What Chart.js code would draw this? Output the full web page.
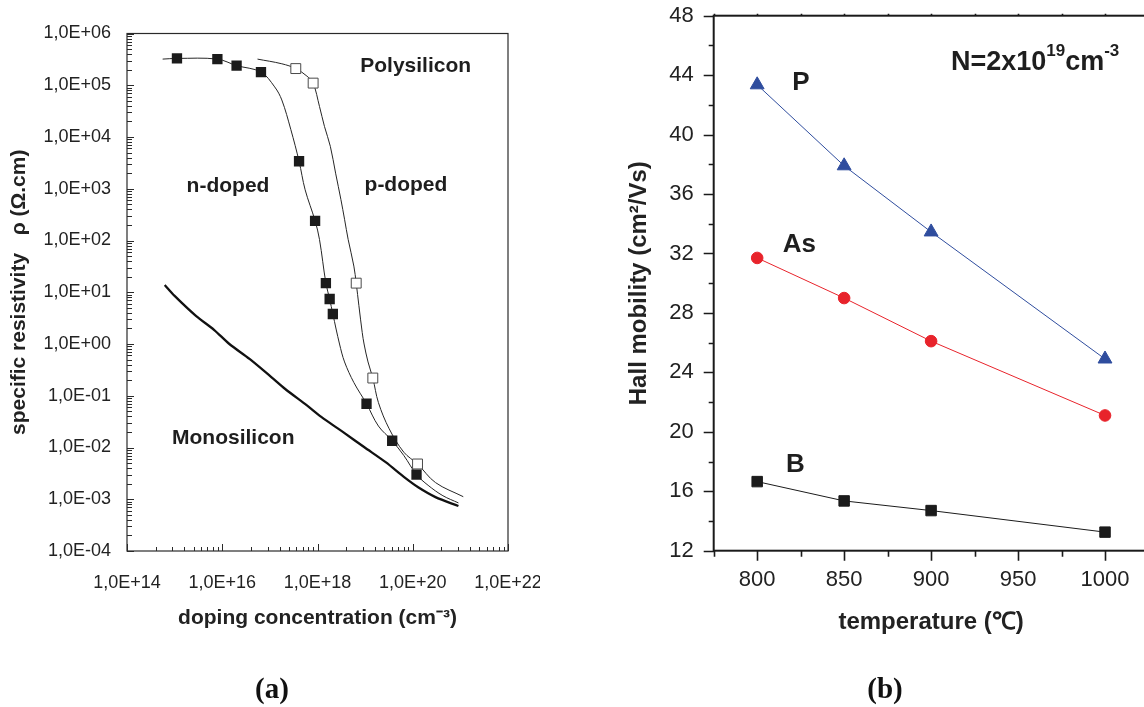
<!DOCTYPE html>
<html>
<head>
<meta charset="utf-8">
<script src="https://cdn.jsdelivr.net/npm/chart.js@4.4.0/dist/chart.umd.min.js"></script>
<style>
  html, body { margin: 0; padding: 0; background: #fff; overflow: hidden; width: 1144px; height: 707px; }
  #chartA { position: absolute; left: 0; top: 0; }
  #chartB { position: absolute; left: 560px; top: 0; }
  .panel { position: absolute; top: 670px; width: 80px; text-align: center; font: bold 29px 'Liberation Serif', serif; color: #111; line-height: 36px; }
</style>
</head>
<body>
<canvas id="chartA" width="540" height="707"></canvas>
<canvas id="chartB" width="600" height="707"></canvas>
<div class="panel" style="left:232px">(a)</div>
<div class="panel" style="left:845px">(b)</div>
<script>
// ---- panel (a): resistivity vs doping ----
const xTicksA = [1e14, 1e16, 1e18, 1e20, 1e22]
const xLabelsA = ['1,0E+14', '1,0E+16', '1,0E+18', '1,0E+20', '1,0E+22']
const yTicksA = [1e-4, 1e-3, 1e-2, 1e-1, 1e0, 1e1, 1e2, 1e3, 1e4, 1e5, 1e6]
const yLabelsA = ['1,0E-04', '1,0E-03', '1,0E-02', '1,0E-01', '1,0E+00', '1,0E+01', '1,0E+02', '1,0E+03', '1,0E+04', '1,0E+05', '1,0E+06']

// measured points
const nDopedX = [1.12e15, 7.9e15, 2.0e16, 6.5e16, 4.1e17, 8.9e17, 1.5e18, 1.8e18, 2.1e18, 1.07e19, 3.7e19, 1.2e20]
const nDopedY = [3.3e5, 3.2e5, 2.4e5, 1.8e5, 3.4e3, 240, 15, 7.4, 3.8, 0.07, 0.0135, 0.003]
const pDopedX = [3.5e17, 8.1e17, 6.5e18, 1.45e19, 1.26e20]
const pDopedY = [2.1e5, 1.1e5, 15, 0.22, 0.0048]

// fitted curves
const nCurveX = [5.6e14, 1.12e15, 7.9e15, 2.0e16, 6.5e16, 1.26e17, 1.78e17, 2.75e17, 4.1e17, 5.5e17, 8.9e17, 1.1e18, 1.5e18, 1.8e18, 2.1e18, 2.9e18, 3.7e18, 5.8e18, 1.07e19, 1.9e19, 3.7e19, 6.5e19, 1.2e20, 2.1e20, 4.3e20, 9.1e20]
const nCurveY = [3.2e5, 3.3e5, 3.2e5, 2.4e5, 1.8e5, 9.3e4, 5.2e4, 1.4e4, 3.4e3, 955, 240, 105, 15, 7.4, 3.8, 1.0, 0.45, 0.18, 0.07, 0.026, 0.0135, 0.007, 0.003, 0.00186, 0.00117, 0.00085]
const pCurveX = [5.5e16, 1.78e17, 3.5e17, 6.0e17, 8.1e17, 1.1e18, 1.4e18, 1.86e18, 2.4e18, 3.1e18, 3.7e18, 4.4e18, 5.8e18, 6.5e18, 7.4e18, 8.7e18, 9.5e18, 1.15e19, 1.45e19, 1.9e19, 3.2e19, 6.5e19, 1.26e20, 3.0e20, 1.15e21]
const pCurveY = [3.2e5, 2.6e5, 2.1e5, 1.5e5, 1.1e5, 3.9e4, 1.6e4, 6.6e3, 2.0e3, 620, 257, 105, 32, 15, 5.5, 1.66, 1.0, 0.45, 0.22, 0.074, 0.023, 0.0081, 0.0048, 0.0021, 0.00112]
const monoX = [6.2e14, 1.0e15, 2.8e15, 6.8e15, 1.41e16, 3.8e16, 1.07e17, 2.1e17, 6.0e17, 1.2e18, 3.4e18, 9.5e18, 2.7e19, 6.5e19, 1.3e20, 3.0e20, 9.1e20]
const monoY = [13.8, 8.5, 3.5, 1.86, 1.0, 0.51, 0.23, 0.135, 0.065, 0.039, 0.02, 0.0102, 0.0052, 0.0027, 0.0017, 0.0011, 0.00074]

const notesTextA = ['Polysilicon', 'n-doped', 'p-doped', 'Monosilicon']
const notesXA = [1.15e20, 1.32e16, 7.2e19, 1.7e16]
const notesYA = [2.35e5, 1.1e3, 1.17e3, 0.0151]

// ---- panel (b): Hall mobility vs temperature ----
const temps = [800, 850, 900, 1000]
const mobilityP = [43.35, 37.9, 33.45, 24.9]
const mobilityAs = [31.7, 29.0, 26.1, 21.1]
const mobilityB = [16.65, 15.35, 14.7, 13.25]
const xTicksB = [800, 850, 900, 950, 1000]
const xLabelsB = ['800', '850', '900', '950', '1000']
const yTicksB = [12, 16, 20, 24, 28, 32, 36, 40, 44, 48]
const yLabelsB = ['12', '16', '20', '24', '28', '32', '36', '40', '44', '48']

const notesTextB = ['P', 'As', 'B']
const notesXB = [825.2, 824.2, 821.9]
const notesYB = [43.47, 32.57, 17.76]

Chart.defaults.font.family = "'Liberation Sans', Arial, sans-serif"
Chart.defaults.color = '#222'

const pts = (xs, ys) => xs.map((x, i) => ({x: x, y: ys[i]}))

// standard log minor ticks: k * 10^e
function logTicks(e0, e1, majorLen, minorLen) {
    const list = []
    for (let e = e0; e < e1; e++) {
        for (let k = 1; k < 10; k++) list.push({v: k * Math.pow(10, e), len: k === 1 ? majorLen : minorLen})
    }
    list.push({v: Math.pow(10, e1), len: majorLen})
    return list
}
// log axis with major step of 100: minor ticks at k^2 * 100^n
function log100Ticks(e0, e1, majorLen, minorLen) {
    const list = []
    for (let e = e0; e < e1; e += 2) {
        list.push({v: Math.pow(10, e), len: majorLen})
        for (let k = 2; k < 10; k++) list.push({v: k * k * Math.pow(10, e), len: minorLen})
    }
    list.push({v: Math.pow(10, e1), len: majorLen})
    return list
}
function linTicks(from, to, step, majorEvery, majorLen, minorLen) {
    const list = []
    for (let v = from; v <= to + 1e-9; v += step) {
        list.push({v: v, len: (Math.round(v) % majorEvery === 0) ? majorLen : minorLen})
    }
    return list
}

// frame + tick marks (inward for a, outward for b)
function frameDeco(cfg) {
    return {
        id: 'frameDeco',
        afterDatasetsDraw(chart) {
            const {ctx, chartArea: a} = chart
            const sx = chart.scales.x, sy = chart.scales.y
            ctx.save()
            ctx.strokeStyle = cfg.color
            ctx.lineWidth = cfg.frameWidth
            ctx.strokeRect(a.left, a.top, a.right - a.left, a.bottom - a.top)
            ctx.lineWidth = cfg.tickWidth
            ctx.beginPath()
            cfg.bottom.forEach(t => {
                const p = Math.round(sx.getPixelForValue(t.v)) + 0.5
                ctx.moveTo(p, a.bottom); ctx.lineTo(p, a.bottom + cfg.dir * t.len)
            })
            cfg.top.forEach(t => {
                const p = Math.round(sx.getPixelForValue(t.v)) + 0.5
                ctx.moveTo(p, a.top); ctx.lineTo(p, a.top - cfg.dir * t.len)
            })
            cfg.left.forEach(t => {
                const p = Math.round(sy.getPixelForValue(t.v)) + 0.5
                ctx.moveTo(a.left, p); ctx.lineTo(a.left - cfg.dir * t.len, p)
            })
            ctx.stroke()
            ctx.restore()
        }
    }
}

// text labels placed at data coordinates; parts with sup:true are raised
function notesPlugin(notes) {
    return {
        id: 'notes',
        afterDatasetsDraw(chart) {
            const {ctx} = chart
            const sx = chart.scales.x, sy = chart.scales.y
            ctx.save()
            ctx.fillStyle = '#1e1e1e'
            ctx.textBaseline = 'middle'
            ctx.textAlign = 'left'
            notes.forEach(n => {
                const parts = n.parts || [{t: n.text}]
                const fontOf = p => 'bold ' + (p.sup ? Math.round(n.size * 0.62) : n.size) + "px 'Liberation Sans', Arial, sans-serif"
                const widths = parts.map(p => { ctx.font = fontOf(p); return ctx.measureText(p.t).width })
                let x = sx.getPixelForValue(n.x)
                const y = sy.getPixelForValue(n.y)
                if (n.align !== 'left') x -= widths.reduce((s, w) => s + w, 0) / 2
                parts.forEach((p, i) => {
                    ctx.font = fontOf(p)
                    ctx.fillText(p.t, x, p.sup ? y - n.size * 0.42 : y)
                    x += widths[i]
                })
            })
            ctx.restore()
        }
    }
}

const fixAxis = (w, h) => s => {
    if (w !== null) s.width = w
    if (h !== null) s.height = h
    s.paddingLeft = 0; s.paddingRight = 0; s.paddingTop = 0; s.paddingBottom = 0
}

// chart (a)
new Chart(document.getElementById('chartA'), {
    type: 'scatter',
    data: {
        datasets: [
            {data: pts(nDopedX, nDopedY), pointStyle: 'rect', pointRadius: 7.3, backgroundColor: '#1b1b1b', borderColor: '#1b1b1b', borderWidth: 0},
            {data: pts(pDopedX, pDopedY), pointStyle: 'rect', pointRadius: 7, backgroundColor: '#ffffff', borderColor: '#4a4a4a', borderWidth: 1},
            {data: pts(nCurveX, nCurveY), showLine: true, pointRadius: 0, borderColor: '#262626', borderWidth: 1, tension: 0.35},
            {data: pts(pCurveX, pCurveY), showLine: true, pointRadius: 0, borderColor: '#262626', borderWidth: 1, tension: 0.35},
            {data: pts(monoX, monoY), showLine: true, pointRadius: 0, borderColor: '#111111', borderWidth: 2.3, tension: 0.3}
        ]
    },
    options: {
        responsive: false,
        animation: false,
        layout: {padding: {left: 0, top: 33.5, right: 32, bottom: 0}},
        plugins: {legend: {display: false}, tooltip: {enabled: false}},
        scales: {
            x: {
                type: 'logarithmic', min: 1e14, max: 1e22,
                afterFit: fixAxis(null, 156),
                afterBuildTicks: s => { s.ticks = xTicksA.map(v => ({value: v})) },
                grid: {display: false, drawTicks: false},
                border: {display: false},
                ticks: {callback: (v, i) => xLabelsA[i], font: {size: 18}, padding: 21, maxRotation: 0, autoSkip: false},
                title: {display: true, text: 'doping concentration (cm⁻³)', font: {size: 21, weight: 'bold'}, padding: {top: 0, bottom: 76}}
            },
            y: {
                type: 'logarithmic', min: 1e-4, max: 1e6,
                afterFit: fixAxis(127, null),
                afterBuildTicks: s => { s.ticks = yTicksA.map(v => ({value: v})) },
                grid: {display: false, drawTicks: false},
                border: {display: false},
                ticks: {callback: (v, i) => yLabelsA[i], font: {size: 18}, padding: 16, autoSkip: false},
                title: {display: true, text: 'specific resistivity   ρ (Ω.cm)', font: {size: 21, weight: 'bold'}, padding: {top: 7, bottom: 0}}
            }
        }
    },
    plugins: [
        frameDeco({color: '#2a2a2a', frameWidth: 1.2, tickWidth: 1, dir: -1, bottom: log100Ticks(14, 22, 7, 4), top: [], left: logTicks(-4, 6, 7, 5)}),
        notesPlugin(notesTextA.map((t, i) => ({text: t, x: notesXA[i], y: notesYA[i], size: 21})))
    ]
})

// chart (b)
new Chart(document.getElementById('chartB'), {
    type: 'scatter',
    data: {
        datasets: [
            {data: pts(temps, mobilityP), showLine: true, pointStyle: 'triangle', pointRadius: 8, backgroundColor: '#2f4d9e', borderColor: '#2f4d9e', borderWidth: 1},
            {data: pts(temps, mobilityAs), showLine: true, pointStyle: 'circle', pointRadius: 5.8, backgroundColor: '#e8232b', borderColor: '#e8232b', borderWidth: 1},
            {data: pts(temps, mobilityB), showLine: true, pointStyle: 'rect', pointRadius: 7.4, backgroundColor: '#1b1b1b', borderColor: '#1b1b1b', borderWidth: 1}
        ]
    },
    options: {
        responsive: false,
        animation: false,
        layout: {padding: {left: 0, top: 15.7, right: 11.5, bottom: 0}},
        plugins: {legend: {display: false}, tooltip: {enabled: false}},
        scales: {
            x: {
                type: 'linear', min: 775, max: 1025,
                afterFit: fixAxis(null, 156.3),
                afterBuildTicks: s => { s.ticks = xTicksB.map(v => ({value: v})) },
                grid: {display: false, drawTicks: false},
                border: {display: false},
                ticks: {callback: (v, i) => xLabelsB[i], font: {size: 22}, padding: 16, maxRotation: 0, autoSkip: false},
                title: {display: true, text: 'temperature (℃)', font: {size: 24, weight: 'bold'}, padding: {top: 0, bottom: 70}}
            },
            y: {
                type: 'linear', min: 12, max: 48,
                afterFit: fixAxis(153.7, null),
                afterBuildTicks: s => { s.ticks = yTicksB.map(v => ({value: v})) },
                grid: {display: false, drawTicks: false},
                border: {display: false},
                ticks: {callback: (v, i) => yLabelsB[i], font: {size: 22}, padding: 20, autoSkip: false},
                title: {display: true, text: 'Hall mobility (cm²/Vs)', font: {size: 24, weight: 'bold'}, padding: {top: 65, bottom: 0}}
            }
        }
    },
    plugins: [
        frameDeco({color: '#1a1a1a', frameWidth: 2, tickWidth: 1.6, dir: 1, bottom: linTicks(775, 1025, 25, 50, 10, 6), top: linTicks(775, 1025, 25, 50, 2, 2), left: linTicks(12, 48, 2, 4, 10, 5)}),
        notesPlugin(notesTextB.map((t, i) => ({text: t, x: notesXB[i], y: notesYB[i], size: 26})).concat([
            {parts: [{t: 'N=2x10'}, {t: '19', sup: true}, {t: 'cm'}, {t: '-3', sup: true}], x: 911.4, y: 44.85, size: 27, align: 'left'}
        ]))
    ]
})
</script>
</body>
</html>
